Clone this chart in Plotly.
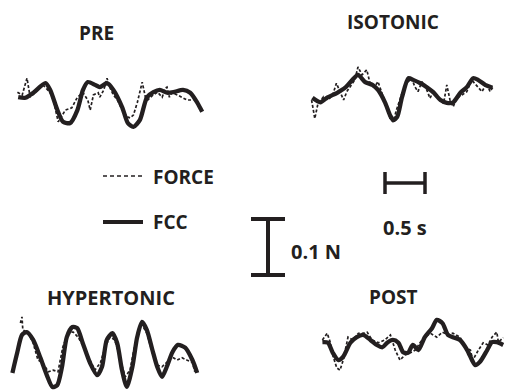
import plotly.graph_objects as go

# ---------------- data (time in s, force in mN) ----------------
pre_fcc_t = [0.04,0.13,0.23,0.38,0.44,0.53,0.60,0.69,0.78,0.85,0.91,1.00,1.06,1.15,1.23,1.34,1.41,1.48,1.56,1.65,1.73,1.81,1.90,1.98,2.10,2.19,2.28,2.34]
pre_fcc   = [5,4,13,30,18,-18,-39,-41,-18,18,32,27,23,30,18,-13,-41,-48,-36,5,14,18,13,14,18,13,-5,-21]
pre_force_t = [0.03,0.09,0.15,0.19,0.25,0.35,0.44,0.48,0.54,0.59,0.63,0.71,0.78,0.85,0.91,0.94,0.98,1.04,1.06,1.11,1.15,1.19,1.23,1.28,1.34,1.40,1.44,1.48,1.53,1.59,1.63,1.66,1.71,1.78,1.84,1.88,1.90,1.93,1.96,2.03,2.09,2.15,2.23]
pre_force   = [14,9,39,5,13,27,13,0,-39,-27,-18,-14,5,13,0,-18,9,13,5,18,39,21,9,0,-18,-30,-32,-27,-4,32,5,0,7,14,5,21,23,5,13,9,5,0,0]

iso_fcc_t = [0.03,0.13,0.21,0.34,0.44,0.53,0.60,0.69,0.78,0.85,0.94,1.00,1.04,1.09,1.15,1.23,1.29,1.38,1.46,1.54,1.63,1.71,1.79,1.88,1.96,2.04,2.10,2.19,2.28]
iso_fcc   = [-5,-13,-5,4,13,27,36,23,18,9,-14,-36,-45,-39,-4,30,27,21,14,5,-9,-14,-13,4,14,30,27,18,13]
iso_force_t = [0.02,0.06,0.10,0.17,0.23,0.29,0.33,0.38,0.42,0.46,0.52,0.56,0.60,0.65,0.71,0.75,0.81,0.85,0.90,0.96,1.00,1.04,1.08,1.15,1.21,1.27,1.31,1.35,1.40,1.46,1.50,1.54,1.60,1.67,1.71,1.75,1.79,1.83,1.90,1.96,2.02,2.08,2.15,2.21,2.25,2.29]
iso_force   = [-9,-42,-15,-3,-9,3,21,3,-9,6,18,27,50,36,45,21,15,24,3,-21,-42,-48,-27,3,21,30,15,6,24,9,-6,6,-3,-15,18,-9,-21,-6,0,6,27,18,6,21,6,15]

hyp_fcc_t = [0.03,0.09,0.15,0.21,0.29,0.38,0.46,0.53,0.59,0.65,0.71,0.78,0.84,0.91,1.00,1.09,1.15,1.21,1.28,1.34,1.40,1.46,1.53,1.59,1.65,1.71,1.78,1.84,1.90,1.96,2.03,2.10,2.19,2.28,2.34]
hyp_fcc   = [-32,4,36,41,27,-5,-36,-57,-54,-21,32,50,48,21,-14,-36,-21,27,39,21,-27,-57,-21,32,59,45,9,-21,-39,-21,5,18,13,-9,-32]
hyp_force_t = [0.13,0.15,0.16,0.23,0.29,0.35,0.41,0.48,0.54,0.60,0.66,0.73,0.79,0.85,0.91,1.00,1.06,1.13,1.19,1.25,1.31,1.38,1.44,1.50,1.56,1.63,1.65,1.71,1.78,1.84,1.90,1.96,2.03,2.09,2.15,2.21,2.28,2.31]
hyp_force   = [57,68,45,39,21,-9,-14,-30,-27,-30,14,41,41,32,18,-9,-27,-14,14,32,27,-9,-39,-27,18,50,54,39,4,-18,-21,-13,-4,-9,-5,-9,-13,-30]

post_fcc_t = [0.03,0.10,0.16,0.23,0.29,0.38,0.46,0.54,0.63,0.71,0.78,0.84,0.91,0.98,1.04,1.10,1.16,1.23,1.31,1.40,1.46,1.53,1.60,1.66,1.75,1.84,1.90,1.94,2.00,2.09,2.15,2.21,2.29]
post_fcc   = [5,4,-14,-27,-21,4,14,18,9,0,-4,4,9,4,-13,-14,0,-9,14,30,45,39,18,14,9,-9,-27,-36,-30,-9,5,5,0]
post_force_t = [0.03,0.09,0.13,0.15,0.21,0.25,0.29,0.35,0.41,0.48,0.54,0.59,0.65,0.73,0.81,0.88,0.94,1.00,1.06,1.13,1.19,1.25,1.31,1.38,1.46,1.53,1.60,1.66,1.75,1.81,1.88,1.91,1.98,2.04,2.10,2.15,2.21,2.23,2.29]
post_force   = [9,21,4,-14,-41,-45,-27,14,9,21,21,23,9,4,9,18,-9,-27,-18,-14,-9,4,14,21,14,23,18,21,14,-4,-9,-27,-9,4,0,14,23,5,13]

titles = ["PRE", "ISOTONIC", "HYPERTONIC", "POST"]
scale_time_s = 0.5
scale_force_mN = 100

# ---------------- layout geometry ----------------
W, H = 506, 390
PX_PER_S = 80.0      # 0.5 s = 40 px
PX_PER_MN = 0.56     # 0.1 N = 56 px
INK = "#231f20"
FONT = "Open Sans"

# panel: (left px, right px, top px, bottom px, zero-line px)
panels = [
    (15, 205, 60, 140, 100),
    (310, 500, 55, 135, 95),
    (10, 200, 312, 390, 355),
    (320, 506, 305, 385, 345),
]
series = [
    (pre_fcc_t, pre_fcc, pre_force_t, pre_force),
    (iso_fcc_t, iso_fcc, iso_force_t, iso_force),
    (hyp_fcc_t, hyp_fcc, hyp_force_t, hyp_force),
    (post_fcc_t, post_fcc, post_force_t, post_force),
]

fig = go.Figure()
layout_axes = {}
hidden = dict(visible=False, showgrid=False, zeroline=False, fixedrange=True)

for i, ((l, r, t, b, cy), (ft, fv, gt, gv)) in enumerate(zip(panels, series), start=1):
    xa = "x" if i == 1 else f"x{i}"
    ya = "y" if i == 1 else f"y{i}"
    layout_axes["xaxis" if i == 1 else f"xaxis{i}"] = dict(
        domain=[l / W, r / W], range=[0, (r - l) / PX_PER_S], anchor=ya, **hidden)
    layout_axes["yaxis" if i == 1 else f"yaxis{i}"] = dict(
        domain=[1 - b / H, 1 - t / H],
        range=[-(b - cy) / PX_PER_MN, (cy - t) / PX_PER_MN], anchor=xa, **hidden)
    fig.add_trace(go.Scatter(x=gt, y=gv, xaxis=xa, yaxis=ya, mode="lines",
                             line=dict(color=INK, width=1.7, dash="3px,2px"),
                             showlegend=False, hoverinfo="skip", cliponaxis=False))
    fig.add_trace(go.Scatter(x=ft, y=fv, xaxis=xa, yaxis=ya, mode="lines",
                             line=dict(color=INK, width=4.3, shape="spline", smoothing=0.7),
                             showlegend=False, hoverinfo="skip", cliponaxis=False))

# overlay axes spanning the whole figure for scale bars
layout_axes["xaxis5"] = dict(domain=[0, 1], range=[0, W / PX_PER_S], anchor="y5", **hidden)
layout_axes["yaxis5"] = dict(domain=[0, 1], range=[0, H / PX_PER_MN], anchor="x5", **hidden)

def sx(px):
    return px / PX_PER_S

def sy(py):
    return (H - py) / PX_PER_MN

# time scale bar (0.5 s)
tx0, ty = sx(385), sy(183)
cap_t = 11 / PX_PER_MN
fig.add_trace(go.Scatter(
    x=[tx0, tx0, None, tx0, tx0 + scale_time_s, None, tx0 + scale_time_s, tx0 + scale_time_s],
    y=[ty - cap_t, ty + cap_t, None, ty, ty, None, ty - cap_t, ty + cap_t],
    xaxis="x5", yaxis="y5", mode="lines", line=dict(color=INK, width=3.5),
    showlegend=False, hoverinfo="skip"))

# force scale bar (0.1 N)
fx, fy0 = sx(268), sy(275)
cap_f = 17 / PX_PER_S
fig.add_trace(go.Scatter(
    x=[fx - cap_f, fx + cap_f, None, fx, fx, None, fx - cap_f, fx + cap_f],
    y=[fy0, fy0, None, fy0, fy0 + scale_force_mN, None, fy0 + scale_force_mN, fy0 + scale_force_mN],
    xaxis="x5", yaxis="y5", mode="lines", line=dict(color=INK, width=4),
    showlegend=False, hoverinfo="skip"))

# legend lines
shapes = [
    dict(type="line", xref="paper", yref="paper", x0=103 / W, x1=142 / W,
         y0=1 - 176 / H, y1=1 - 176 / H, line=dict(color=INK, width=1.3, dash="4px,3px")),
    dict(type="line", xref="paper", yref="paper", x0=103 / W, x1=143 / W,
         y0=1 - 222 / H, y1=1 - 222 / H, line=dict(color=INK, width=4)),
]

def ann(text, x, y, xanchor="center", size=20):
    return dict(text=f"<b>{text}</b>", x=x / W, y=1 - y / H, xref="paper", yref="paper",
                xanchor=xanchor, yanchor="middle", showarrow=False, borderpad=0,
                font=dict(family=FONT, size=size, color=INK))

annotations = [
    ann(titles[0], 96, 33, size=19),
    ann(titles[1], 393, 22, size=19),
    ann(titles[2], 111, 297, size=20),
    ann(titles[3], 393, 297, size=19),
    ann("FORCE", 152, 177, "left", 19),
    ann("FCC", 152, 222, "left", 19),
    ann("0.1 N", 290, 251, "left", 20),
    ann("0.5 s", 405, 227, "center", 20),
]

fig.update_layout(
    width=W, height=H, margin=dict(l=0, r=0, t=0, b=0),
    paper_bgcolor="rgba(0,0,0,0)", plot_bgcolor="rgba(0,0,0,0)",
    showlegend=False, shapes=shapes, annotations=annotations, **layout_axes)

fig.write_html("out.html", config={"displayModeBar": False, "staticPlot": True},
               post_script="document.body.style.margin='0';document.body.style.background='white';")
